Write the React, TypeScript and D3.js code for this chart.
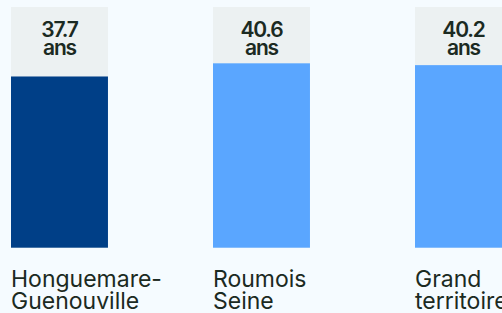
import { useEffect } from "react"
import * as d3 from "d3"

const categories = ["Honguemare-Guenouville", "Roumois Seine", "Grand territoire"]
const labelLines = [["Honguemare-", "Guenouville"], ["Roumois", "Seine"], ["Grand", "territoire"]]
const ages = [37.7, 40.6, 40.2]
const highlighted = [true, false, false]

const width = 502
const height = 313
const bottom = 247.7
const top = 7

const App = () => {
  useEffect(() => {
    document.body.style.margin = "0"
  }, [])

  const x = d3
    .scaleBand()
    .domain(categories)
    .range([11, 11 + 202 * (3 - 0.52)])
    .paddingInner(0.52)
    .paddingOuter(0)

  const y = d3.scaleLinear().domain([0, 53]).range([bottom, top])

  return (
    <svg width={width} height={height} style={{ display: "block", background: "#f5fbff" }}>
      {categories.map((c, i) => {
        const x0 = x(c) || 0
        const cx = x0 + x.bandwidth() / 2
        return (
          <g key={c}>
            {/* background track */}
            <rect x={x0} y={y(53)} width={x.bandwidth()} height={y(0) - y(53)} fill="#ecf1f2" />
            <rect
              x={x0}
              y={y(ages[i])}
              width={x.bandwidth()}
              height={y(0) - y(ages[i])}
              fill={highlighted[i] ? "#003f87" : "#5aa6ff"}
            />
            <text
              x={cx}
              textAnchor="middle"
              fill="#1b2a22"
              fontFamily="Inter, sans-serif"
              fontWeight={600}
              fontSize={21}
              letterSpacing={-1.2}
            >
              <tspan x={cx} y={36.8}>{ages[i].toFixed(1)}</tspan>
              <tspan x={cx} y={55}>ans</tspan>
            </text>
            <text x={x0} fill="#1b2a22" fontFamily="Inter, sans-serif" fontSize={23}>
              {labelLines[i].map((l, j) => (
                <tspan key={j} x={x0} y={286.7 + j * 22.5}>{l}</tspan>
              ))}
            </text>
          </g>
        )
      })}
    </svg>
  )
}

export default App
